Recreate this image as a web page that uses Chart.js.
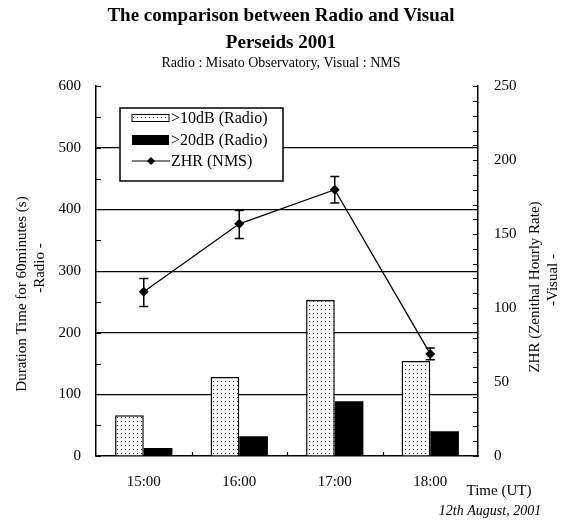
<!DOCTYPE html>
<html>
<head>
<meta charset="utf-8">
<script src="https://cdn.jsdelivr.net/npm/chart.js@4.4.1/dist/chart.umd.min.js"></script>
<style>
html,body{margin:0;padding:0;background:#fff;}
#wrap{width:562px;height:520px;}
</style>
</head>
<body>
<div id="wrap"><canvas id="c" width="562" height="520"></canvas></div>
<script>
// ---- data ----
const categories = ['15:00', '16:00', '17:00', '18:00'];
const radio10dB = [66, 128, 253, 154];
const radio20dB = [13, 32, 89, 40];
const zhr = [111, 157, 180, 69];
const zhrLow = [101, 147, 171, 65];
const zhrHigh = [120, 166, 189, 73];
const leftTicks = [0, 100, 200, 300, 400, 500, 600];
const rightTicks = [0, 50, 100, 150, 200, 250];
const seriesNames = ['>10dB (Radio)', '>20dB (Radio)', 'ZHR (NMS)'];

const SERIF = '"Liberation Serif", "Times New Roman", serif';

// dotted pattern
function makePattern() {
  const t = document.createElement('canvas');
  t.width = 4; t.height = 4;
  const g = t.getContext('2d');
  g.fillStyle = '#fff';
  g.fillRect(0, 0, 4, 4);
  g.fillStyle = '#000';
  g.fillRect(1, 1, 1, 1);
  return g.createPattern(t, 'repeat');
}
const ctx0 = document.getElementById('c').getContext('2d');
const dotPattern = makePattern();

const decorPlugin = {
  id: 'decor',
  afterDatasetsDraw(chart) {
    const ctx = chart.ctx;
    const x = chart.scales.x, y = chart.scales.y, y2 = chart.scales.y2;
    const a = chart.chartArea;
    ctx.save();
    // error bars
    ctx.strokeStyle = '#000';
    ctx.lineWidth = 1.5;
    for (let i = 0; i < categories.length; i++) {
      const px = x.getPixelForValue(i);
      const yl = y2.getPixelForValue(zhrLow[i]);
      const yh = y2.getPixelForValue(zhrHigh[i]);
      ctx.beginPath();
      ctx.moveTo(px, yl); ctx.lineTo(px, yh);
      ctx.moveTo(px - 4.5, yl); ctx.lineTo(px + 4.5, yl);
      ctx.moveTo(px - 4.5, yh); ctx.lineTo(px + 4.5, yh);
      ctx.stroke();
    }
    // inward ticks on left axis (every 50)
    ctx.lineWidth = 1.2;
    ctx.beginPath();
    for (let v = 0; v <= 600; v += 50) {
      const py = Math.round(y.getPixelForValue(v)) + 0.5;
      ctx.moveTo(a.left, py); ctx.lineTo(a.left + 5, py);
    }
    // inward ticks on right axis (every 10)
    for (let v = 0; v <= 250; v += 10) {
      const py = Math.round(y2.getPixelForValue(v)) + 0.5;
      ctx.moveTo(a.right, py); ctx.lineTo(a.right - 5, py);
    }
    // x ticks between categories
    for (let i = 0; i < categories.length - 1; i++) {
      const px = Math.round((x.getPixelForValue(i) + x.getPixelForValue(i + 1)) / 2) + 0.5;
      ctx.moveTo(px, a.bottom); ctx.lineTo(px, a.bottom - 4);
    }
    ctx.stroke();

    // legend box
    const lx = 120, ly = 108, lw = 163, lh = 73;
    ctx.fillStyle = '#fff';
    ctx.fillRect(lx, ly, lw, lh);
    ctx.lineWidth = 1.5;
    ctx.strokeStyle = '#000';
    ctx.strokeRect(lx, ly, lw, lh);
    const rows = [118, 140, 161];
    // swatch 1
    ctx.fillStyle = dotPattern;
    ctx.fillRect(132, rows[0] - 3.5, 37, 7);
    ctx.lineWidth = 1;
    ctx.strokeRect(132, rows[0] - 3.5, 37, 7);
    // swatch 2
    ctx.fillStyle = '#000';
    ctx.fillRect(132, rows[1] - 5, 37, 10);
    // line swatch
    ctx.lineWidth = 1.2;
    ctx.beginPath();
    ctx.moveTo(132, rows[2]); ctx.lineTo(170, rows[2]);
    ctx.stroke();
    ctx.beginPath();
    ctx.moveTo(151, rows[2] - 4); ctx.lineTo(155, rows[2]); ctx.lineTo(151, rows[2] + 4); ctx.lineTo(147, rows[2]);
    ctx.closePath(); ctx.fill();
    ctx.font = '16px ' + SERIF;
    ctx.textBaseline = 'middle';
    ctx.textAlign = 'left';
    for (let i = 0; i < 3; i++) ctx.fillText(seriesNames[i], 171, rows[i] + 1);
    ctx.restore();
  },
  afterDraw(chart) {
    const ctx = chart.ctx;
    ctx.save();
    ctx.fillStyle = '#000';
    ctx.textAlign = 'center';
    ctx.textBaseline = 'middle';
    ctx.font = '15px ' + SERIF;
    // left axis title
    ctx.save();
    ctx.translate(22, 294); ctx.rotate(-Math.PI / 2);
    ctx.fillText('Duration Time for 60minutes (s)', 0, 0);
    ctx.restore();
    ctx.save();
    ctx.translate(40, 268); ctx.rotate(-Math.PI / 2);
    ctx.fillText('-Radio -', 0, 0);
    ctx.restore();
    // right axis title
    ctx.save();
    ctx.translate(535, 287); ctx.rotate(-Math.PI / 2);
    ctx.fillText('ZHR (Zenithal Hourly Rate)', 0, 0);
    ctx.restore();
    ctx.save();
    ctx.translate(553, 280); ctx.rotate(-Math.PI / 2);
    ctx.fillText('-Visual -', 0, 0);
    ctx.restore();
    // x annotations
    ctx.fillText('Time (UT)', 499, 491);
    ctx.font = 'italic 14px ' + SERIF;
    ctx.fillText('12th August, 2001', 490, 511);
    ctx.restore();
  }
};

new Chart(ctx0, {
  type: 'bar',
  data: {
    labels: categories,
    datasets: [
      {
        type: 'line', label: seriesNames[2], data: zhr, yAxisID: 'y2', order: 0,
        borderColor: '#000', borderWidth: 1.3, backgroundColor: '#000',
        pointStyle: 'rectRot', pointRadius: 5, pointBackgroundColor: '#000', pointBorderWidth: 0,
        tension: 0, fill: false
      },
      {
        label: seriesNames[0], data: radio10dB, yAxisID: 'y', order: 1,
        backgroundColor: dotPattern, borderColor: '#000', borderWidth: 1.5, borderSkipped: 'bottom',
        categoryPercentage: 0.6, barPercentage: 1.0
      },
      {
        label: seriesNames[1], data: radio20dB, yAxisID: 'y', order: 1,
        backgroundColor: '#000', borderColor: '#000', borderWidth: 0,
        categoryPercentage: 0.6, barPercentage: 1.0
      }
    ]
  },
  options: {
    responsive: false,
    animation: false,
    devicePixelRatio: 1,
    layout: { padding: { left: 0, right: 0, top: 0, bottom: 0 } },
    plugins: {
      legend: { display: false },
      tooltip: { enabled: false },
      title: {
        display: true,
        text: ['The comparison between Radio and Visual', 'Perseids 2001'],
        color: '#000',
        font: { family: SERIF, size: 19, weight: 'bold', lineHeight: 1.4 },
        padding: { top: 3, bottom: 0 }
      },
      subtitle: {
        display: true,
        text: 'Radio : Misato Observatory, Visual : NMS',
        color: '#000',
        font: { family: SERIF, size: 14, lineHeight: 1.0 },
        padding: { top: 0, bottom: 16 }
      }
    },
    scales: {
      x: {
        type: 'category',
        grid: { display: false, drawTicks: false },
        border: { display: true, color: '#000', width: 1.5 },
        ticks: { color: '#000', font: { family: SERIF, size: 15 }, padding: 17 },
        afterFit(s) { s.height = 64; }
      },
      y: {
        position: 'left', min: 0, max: 600,
        afterBuildTicks(s) { s.ticks = leftTicks.map(v => ({ value: v })); },
        grid: {
          drawTicks: false,
          lineWidth: 1.2,
          color: (c) => (c.tick && c.tick.value > 0 && c.tick.value < 600) ? '#000' : 'rgba(0,0,0,0)'
        },
        border: { display: true, color: '#000', width: 1.5 },
        ticks: { color: '#000', font: { family: SERIF, size: 15 }, padding: 15 },
        afterFit(s) { s.width = 96; }
      },
      y2: {
        position: 'right', min: 0, max: 250,
        afterBuildTicks(s) { s.ticks = rightTicks.map(v => ({ value: v })); },
        grid: { drawOnChartArea: false, drawTicks: false },
        border: { display: true, color: '#000', width: 1.5 },
        ticks: { color: '#000', font: { family: SERIF, size: 15 }, padding: 16 },
        afterFit(s) { s.width = 84; }
      }
    }
  },
  plugins: [decorPlugin]
});
</script>
</body>
</html>
